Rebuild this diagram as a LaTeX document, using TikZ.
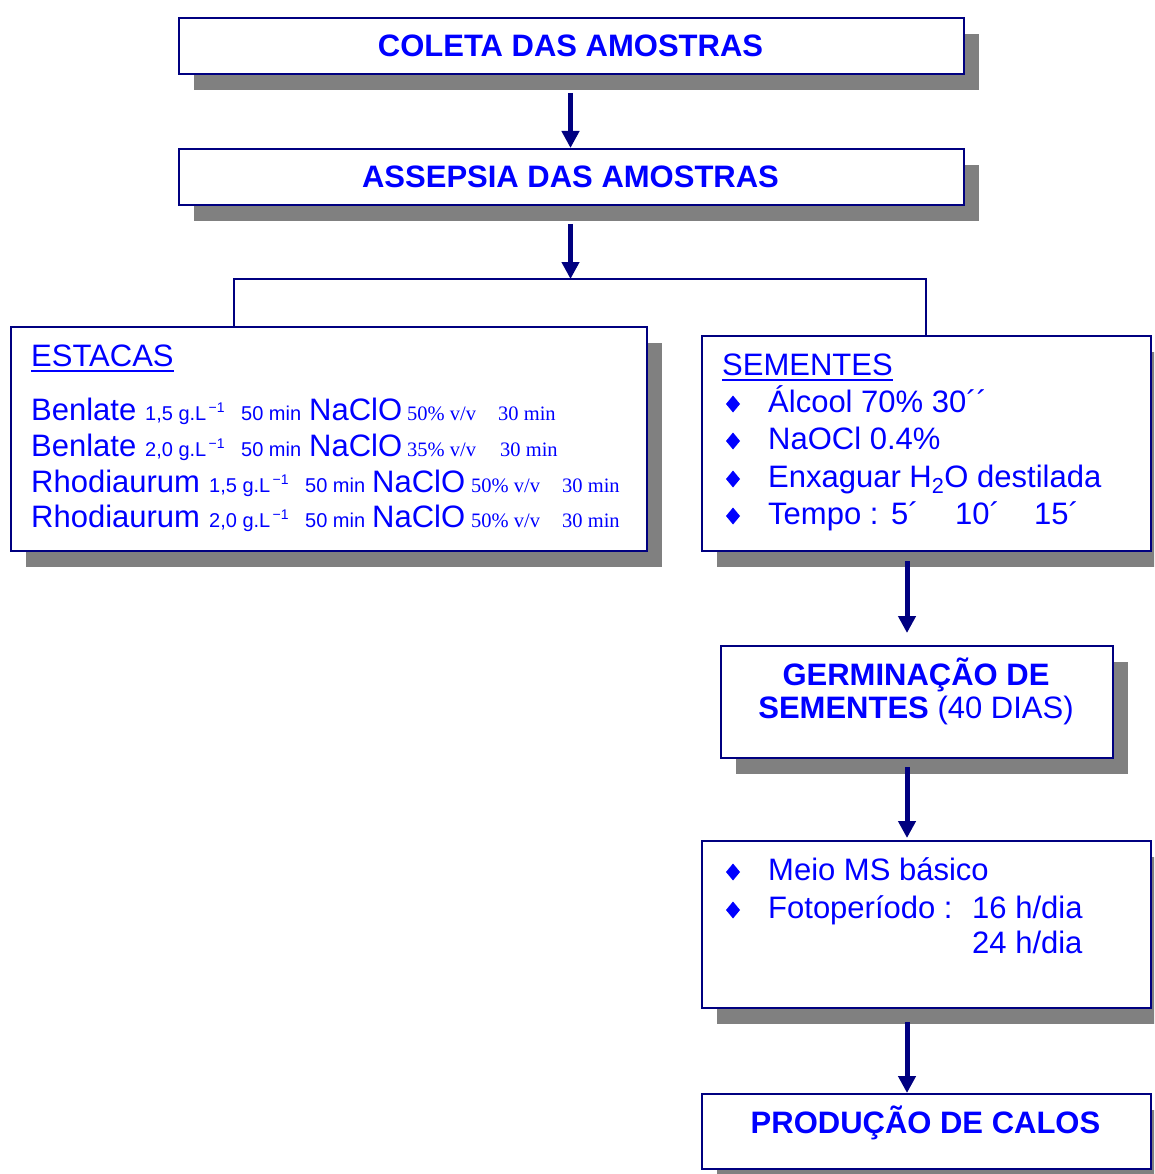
\documentclass[tikz,border=0pt]{standalone}
\usepackage{fontspec}
\setmainfont{Liberation Sans}
\newfontfamily\serifx{Liberation Serif}
\usetikzlibrary{arrows.meta,shadows}
\definecolor{navyc}{RGB}{0,0,128}
\definecolor{bluet}{RGB}{0,0,255}
\definecolor{shade}{RGB}{128,128,128}
\newcommand\fbig{\fontsize{31}{36}\selectfont}
\newcommand\fsm{\fontsize{20}{24}\selectfont}
\newcommand\fser{\serifx\fontsize{20.5}{24}\selectfont}
\newcommand\supm{\textsuperscript{\,−1}}
\begin{document}
\begin{tikzpicture}[x=1pt,y=-1pt,
 box/.style={draw=navyc, line width=2pt, fill=white, rectangle, inner sep=0pt, anchor=north west,
   general shadow={fill=shade, shadow xshift=15pt, shadow yshift=-16pt}},
 txt/.style={text=bluet, inner sep=0pt, anchor=base west, font=\fbig},
 ttl/.style={text=bluet, inner sep=0pt, anchor=base, font=\fbig\bfseries},
 arr/.style={draw=navyc, line width=5pt, -{Triangle[length=17pt,width=17pt]}},
 link/.style={draw=navyc, line width=2pt},
 ul/.style={draw=bluet, line width=2.5pt},
 bul/.style={fill=bluet},
]
\path[use as bounding box, clip] (0,0) rectangle (1154,1174);
\fill[white] (0,0) rectangle (1154,1174);

% boxes
\node[box, minimum width=785pt, minimum height=56pt] (b1) at (178,17) {};
\node[box, minimum width=785pt, minimum height=56pt] (b2) at (178,148) {};
\node[box, minimum width=636pt, minimum height=224pt] (est) at (10,326) {};
\node[box, minimum width=449pt, minimum height=215pt] (sem) at (701,335) {};
\node[box, minimum width=392pt, minimum height=112pt] (germ) at (720,645) {};
\node[box, minimum width=449pt, minimum height=167pt] (meio) at (701,840) {};
\node[box, minimum width=449pt, minimum height=75pt] (prod) at (701,1093) {};

% titles
\node[ttl] (t1) at (570.5,57) {COLETA DAS AMOSTRAS};
\node[ttl] (t2) at (570.5,188) {ASSEPSIA DAS AMOSTRAS};
\node[ttl] (g1) at (916,685) {GERMINAÇÃO DE};
\node[ttl] (g2) at (916,718) {SEMENTES \mdseries(40 DIAS)};
\node[ttl] (t3) at (925.5,1133) {PRODUÇÃO DE CALOS};

% ESTACAS
\node[txt] (esth) at (31,366) {ESTACAS};
\draw[ul] ([yshift=-5pt]esth.base west) -- ([yshift=-5pt]esth.base east);
\node[txt] (e1) at (31,420) {\makebox[114pt][l]{Benlate}\makebox[96pt][l]{\fsm 1,5 g.L\supm}\makebox[68pt][l]{\fsm 50 min}\makebox[98pt][l]{NaClO}\makebox[91pt][l]{\fser 50\% v/v}{\fser 30 min}};
\node[txt] (e2) at (31,456) {\makebox[114pt][l]{Benlate}\makebox[96pt][l]{\fsm 2,0 g.L\supm}\makebox[68pt][l]{\fsm 50 min}\makebox[98pt][l]{NaClO}\makebox[93pt][l]{\fser 35\% v/v}{\fser 30 min}};
\node[txt] (e3) at (31,492) {\makebox[178pt][l]{Rhodiaurum}\makebox[96pt][l]{\fsm 1,5 g.L\supm}\makebox[67pt][l]{\fsm 50 min}\makebox[99pt][l]{NaClO}\makebox[91pt][l]{\fser 50\% v/v}{\fser 30 min}};
\node[txt] (e4) at (31,527) {\makebox[178pt][l]{Rhodiaurum}\makebox[96pt][l]{\fsm 2,0 g.L\supm}\makebox[67pt][l]{\fsm 50 min}\makebox[99pt][l]{NaClO}\makebox[91pt][l]{\fser 50\% v/v}{\fser 30 min}};

% SEMENTES
\node[txt] (semh) at (722,375) {SEMENTES};
\draw[ul] ([yshift=-5pt]semh.base west) -- ([yshift=-5pt]semh.base east);
\node[txt] (s1) at (768,412) {Álcool 70\% 30´´};
\node[txt] (s2) at (768,449) {NaOCl 0.4\%};
\node[txt] (s3) at (768,487) {Enxaguar H\textsubscript{2}O destilada};
\node[txt] (s4) at (768,524) {\makebox[123pt][l]{Tempo :}\makebox[64pt][l]{5´}\makebox[79pt][l]{10´}15´};
\foreach \yy in {404,441,479,516} \fill[bul] (733,\yy-8.5) -- (740,\yy) -- (733,\yy+8.5) -- (726,\yy) -- cycle;

% Meio MS
\node[txt] (m1) at (768,880) {Meio MS básico};
\node[txt] (m2) at (768,918) {\makebox[204pt][l]{Fotoperíodo :}16 h/dia};
\node[txt] (m3) at (972,953) {24 h/dia};
\foreach \yy in {872,910} \fill[bul] (733,\yy-8.5) -- (740,\yy) -- (733,\yy+8.5) -- (726,\yy) -- cycle;

% connectors
\coordinate (split) at (570.5,279);
\coordinate (axis) at (907,0);
\draw[link] ([xshift=224pt]est.north west) |- (split) -| ([xshift=225pt]sem.north west);
\draw[arr, shorten <=18pt] (b1.south -| split) -- (b2.north -| split);
\draw[arr, shorten <=18pt] (b2.south -| split) -- (split);
\draw[arr, shorten <=9pt, shorten >=12pt] (sem.south -| axis) -- (germ.north -| axis);
\draw[arr, shorten <=8pt, shorten >=2pt] (germ.south -| axis) -- (meio.north -| axis);
\draw[arr, shorten <=13pt] (meio.south -| axis) -- (prod.north -| axis);
\end{tikzpicture}
\end{document}
